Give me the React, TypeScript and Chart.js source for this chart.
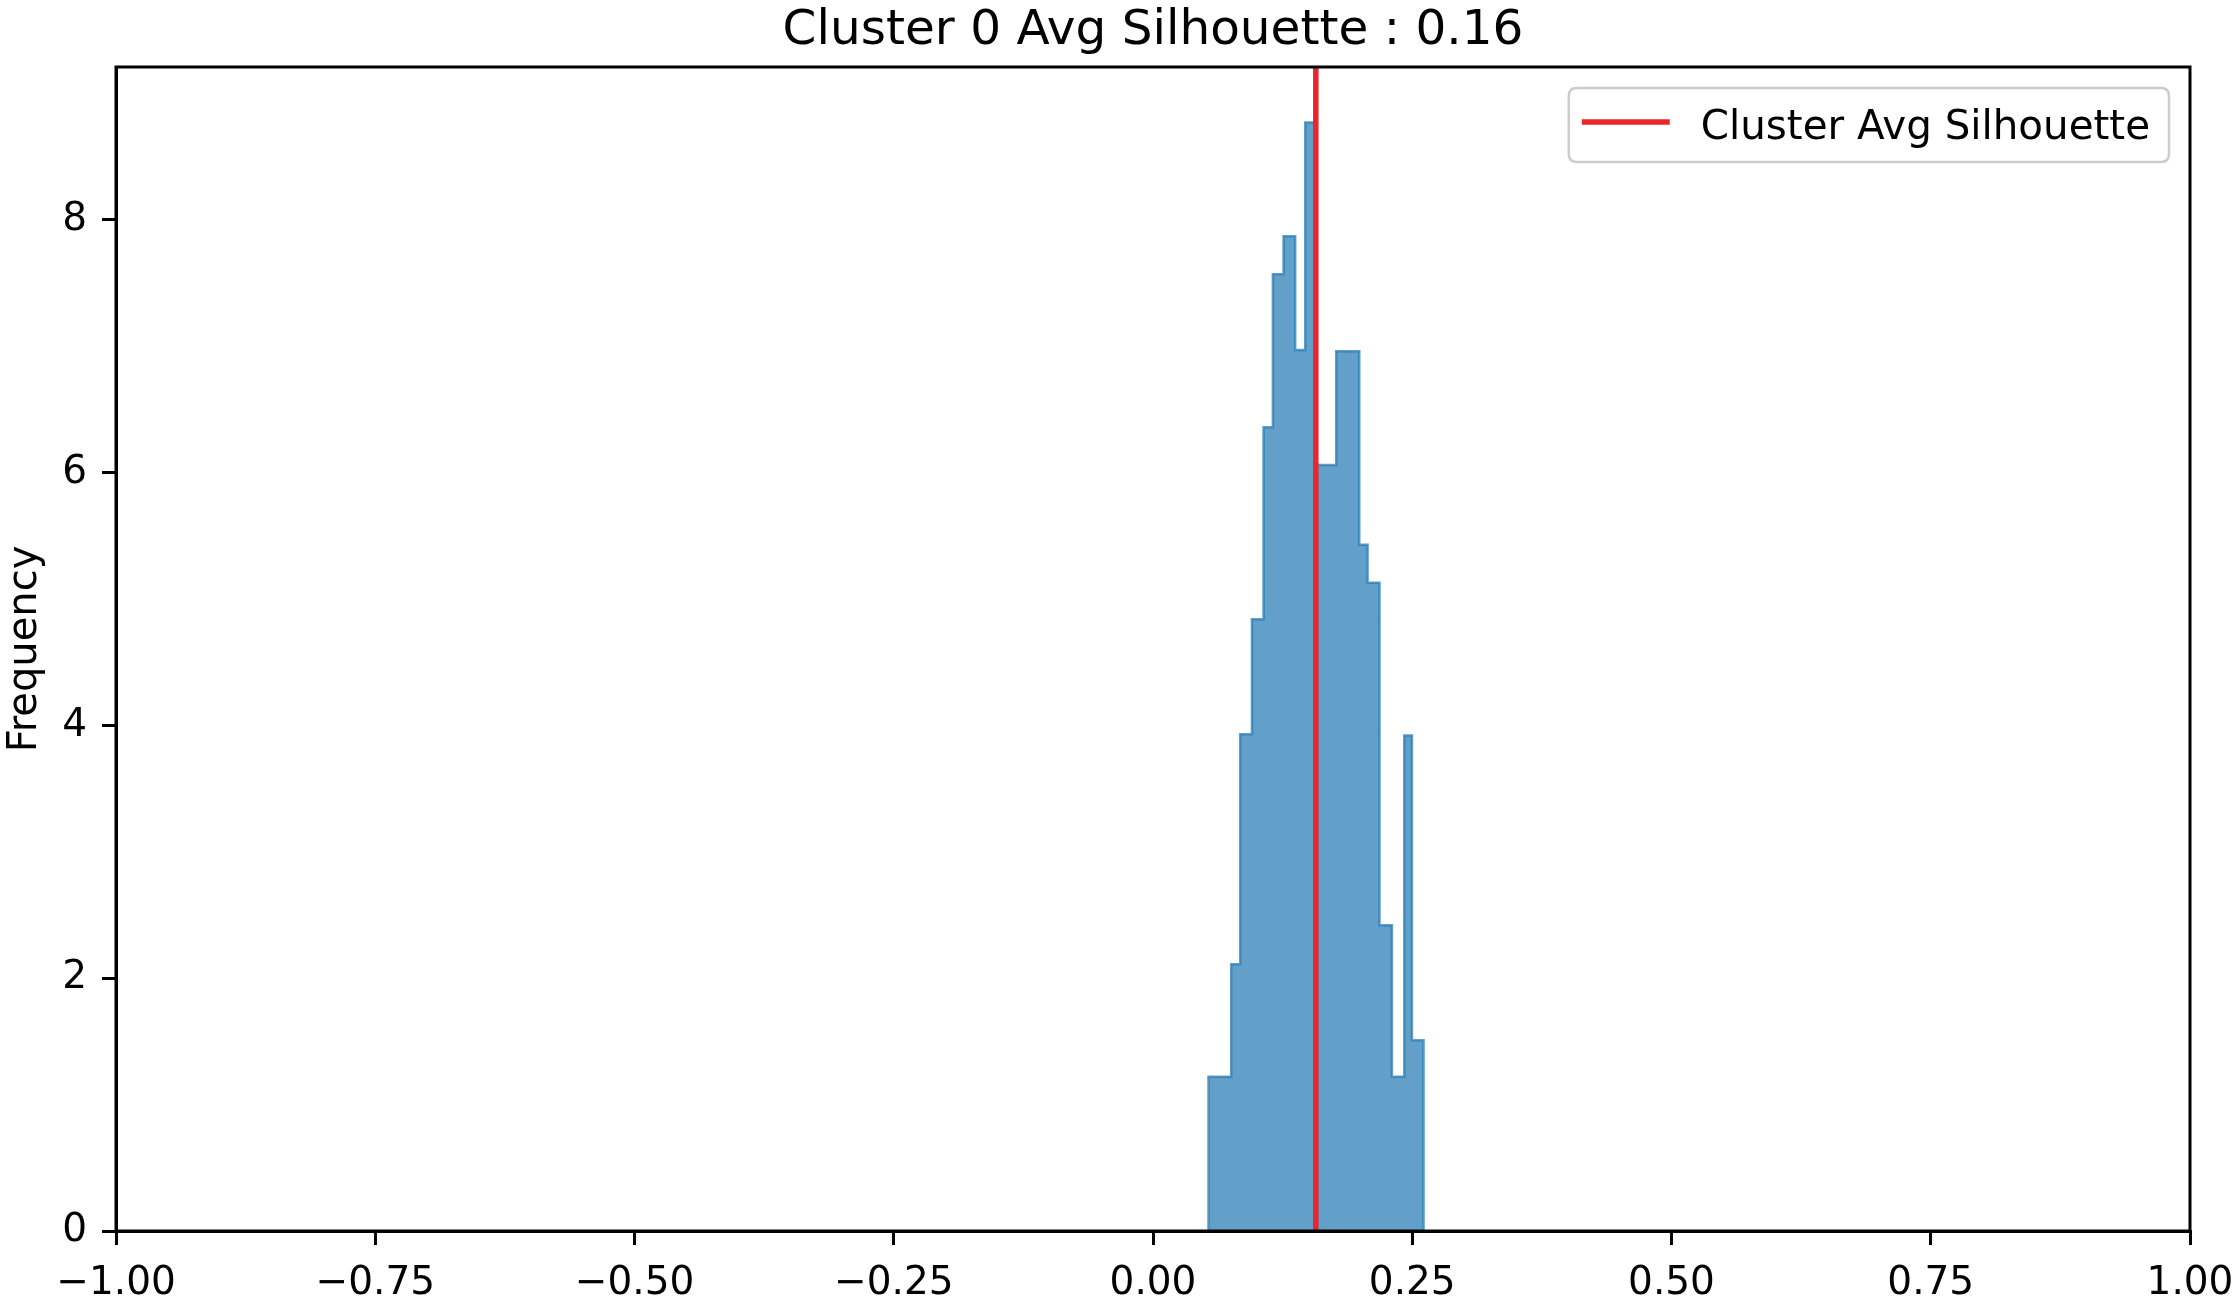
import React, { useEffect, useRef } from "react";
import { Chart, registerables } from "chart.js";

Chart.register(...registerables);

// ---- data ----
const binEdges = [0.0535, 0.0754, 0.0841, 0.0954, 0.1066, 0.1156, 0.1259, 0.1371, 0.1468, 0.1572, 0.1767, 0.1989, 0.2069, 0.2184, 0.2304, 0.2423, 0.2497, 0.2609];
const frequency = [1.22, 2.11, 3.93, 4.84, 6.36, 7.57, 7.87, 6.97, 8.77, 6.06, 6.96, 5.43, 5.13, 2.42, 1.22, 3.92, 1.51];
const clusterAvgSilhouette = 0.157;
const xTickValues = [-1, -0.75, -0.5, -0.25, 0, 0.25, 0.5, 0.75, 1];
const yTickValues = [0, 2, 4, 6, 8];
const xMin = -1;
const xMax = 1;
const yMin = 0;
const yMax = 9.21;
const chartTitle = "Cluster 0 Avg Silhouette : 0.16";
const legendLabel = "Cluster Avg Silhouette";
const yAxisTitle = "Frequency";

const FONT = "'DejaVu Sans', sans-serif";
const HIST_COLOR = "rgba(31,119,180,0.7)";
const RED = "#e8262b";

function fmtTick(v: number) {
  const s = Math.abs(v).toFixed(2);
  return v < 0 ? "\u2212" + s : s;
}

const framePlugin = {
  id: "frame",
  afterDatasetsDraw(chart: any) {
    const { ctx, chartArea } = chart;
    ctx.save();
    ctx.strokeStyle = "#000";
    ctx.lineWidth = 3;
    ctx.strokeRect(chartArea.left, chartArea.top, chartArea.right - chartArea.left, chartArea.bottom - chartArea.top);
    ctx.restore();
  },
};

const titlePlugin = {
  id: "mplTitle",
  afterDraw(chart: any) {
    const { ctx, chartArea } = chart;
    ctx.save();
    ctx.font = `48.5px ${FONT}`;
    ctx.fillStyle = "#000";
    ctx.textAlign = "center";
    ctx.textBaseline = "alphabetic";
    ctx.fillText(chartTitle, (chartArea.left + chartArea.right) / 2, 44);
    ctx.restore();
  },
};

const legendPlugin = {
  id: "mplLegend",
  afterDraw(chart: any) {
    const { ctx, chartArea } = chart;
    const ds = chart.data.datasets.find((d: any) => d.showInLegend);
    if (!ds) return;
    ctx.save();
    ctx.font = `40.4px ${FONT}`;
    const textW = ctx.measureText(ds.label).width;
    const boxRight = chartArea.right - 21;
    const boxTop = chartArea.top + 21;
    const boxH = 74;
    const textX = boxRight - 19 - textW;
    const lineRight = textX - 31;
    const lineLeft = lineRight - 88;
    const boxLeft = lineLeft - 13;
    const r = 8;
    ctx.beginPath();
    ctx.moveTo(boxLeft + r, boxTop);
    ctx.lineTo(boxRight - r, boxTop);
    ctx.quadraticCurveTo(boxRight, boxTop, boxRight, boxTop + r);
    ctx.lineTo(boxRight, boxTop + boxH - r);
    ctx.quadraticCurveTo(boxRight, boxTop + boxH, boxRight - r, boxTop + boxH);
    ctx.lineTo(boxLeft + r, boxTop + boxH);
    ctx.quadraticCurveTo(boxLeft, boxTop + boxH, boxLeft, boxTop + boxH - r);
    ctx.lineTo(boxLeft, boxTop + r);
    ctx.quadraticCurveTo(boxLeft, boxTop, boxLeft + r, boxTop);
    ctx.closePath();
    ctx.fillStyle = "rgba(255,255,255,0.8)";
    ctx.fill();
    ctx.strokeStyle = "#cccccc";
    ctx.lineWidth = 2.5;
    ctx.stroke();
    ctx.beginPath();
    ctx.strokeStyle = ds.borderColor;
    ctx.lineWidth = ds.borderWidth;
    ctx.moveTo(lineLeft, boxTop + 34);
    ctx.lineTo(lineRight, boxTop + 34);
    ctx.stroke();
    ctx.fillStyle = "#000";
    ctx.textAlign = "left";
    ctx.textBaseline = "alphabetic";
    ctx.fillText(ds.label, textX, boxTop + 51);
    ctx.restore();
  },
};

export default function App() {
  const canvasRef = useRef<HTMLCanvasElement | null>(null);

  useEffect(() => {
    document.body.style.margin = "0";
    const canvas = canvasRef.current;
    if (!canvas) return;

    const n = frequency.length;
    const histPoints: { x: number; y: number }[] = [{ x: binEdges[0], y: 0 }];
    frequency.forEach((f, i) => histPoints.push({ x: binEdges[i], y: f }));
    histPoints.push({ x: binEdges[n], y: frequency[n - 1] });
    histPoints.push({ x: binEdges[n], y: 0 });

    const chart = new Chart(canvas, {
      type: "line",
      data: {
        datasets: [
          {
            label: legendLabel,
            showInLegend: true,
            data: [
              { x: clusterAvgSilhouette, y: yMin },
              { x: clusterAvgSilhouette, y: yMax },
            ],
            borderColor: RED,
            borderWidth: 5.5,
            pointRadius: 0,
            fill: false,
            order: 0,
          } as any,
          {
            label: "hist",
            data: histPoints,
            stepped: "before",
            borderColor: HIST_COLOR,
            backgroundColor: HIST_COLOR,
            borderWidth: 2.5,
            pointRadius: 0,
            fill: "origin",
            order: 1,
          } as any,
        ],
      },
      options: {
        animation: false,
        responsive: false,
        maintainAspectRatio: false,
        layout: { padding: { top: 67, right: 44, bottom: 0, left: 0 } },
        plugins: {
          legend: { display: false },
          title: { display: false },
          tooltip: { enabled: false },
        },
        scales: {
          x: {
            type: "linear",
            min: xMin,
            max: xMax,
            afterBuildTicks: (scale: any) => {
              scale.ticks = xTickValues.map((v) => ({ value: v }));
            },
            afterFit: (scale: any) => {
              scale.height = 71;
              scale.paddingLeft = 0;
              scale.paddingRight = 0;
            },
            ticks: {
              color: "#000",
              font: { family: FONT, size: 39 },
              padding: 15,
              maxRotation: 0,
              autoSkip: false,
              callback: (v: any) => fmtTick(Number(v)),
            },
            grid: {
              display: true,
              drawOnChartArea: false,
              drawTicks: true,
              tickLength: 14,
              tickColor: "#000",
              tickWidth: 3,
              lineWidth: 3,
              color: "#000",
            },
            border: { display: true, color: "#000", width: 3 },
          },
          y: {
            type: "linear",
            min: yMin,
            max: yMax,
            afterBuildTicks: (scale: any) => {
              scale.ticks = yTickValues.map((v) => ({ value: v }));
            },
            afterFit: (scale: any) => {
              scale.width = 116;
              scale.paddingTop = 0;
              scale.paddingBottom = 0;
            },
            title: {
              display: true,
              text: yAxisTitle,
              color: "#000",
              font: { family: FONT, size: 40 },
              padding: { top: 2, bottom: 0 },
            },
            ticks: {
              color: "#000",
              font: { family: FONT, size: 39 },
              padding: 15,
              autoSkip: false,
              callback: (v: any) => String(v),
            },
            grid: {
              display: true,
              drawOnChartArea: false,
              drawTicks: true,
              tickLength: 14,
              tickColor: "#000",
              tickWidth: 3,
              lineWidth: 3,
              color: "#000",
            },
            border: { display: true, color: "#000", width: 3 },
          },
        },
      } as any,
      plugins: [framePlugin, titlePlugin, legendPlugin],
    });

    return () => {
      chart.destroy();
    };
  }, []);

  return (
    <div style={{ width: 2234, height: 1302, background: "#fff" }}>
      <canvas ref={canvasRef} width={2234} height={1302} style={{ display: "block" }} />
    </div>
  );
}
